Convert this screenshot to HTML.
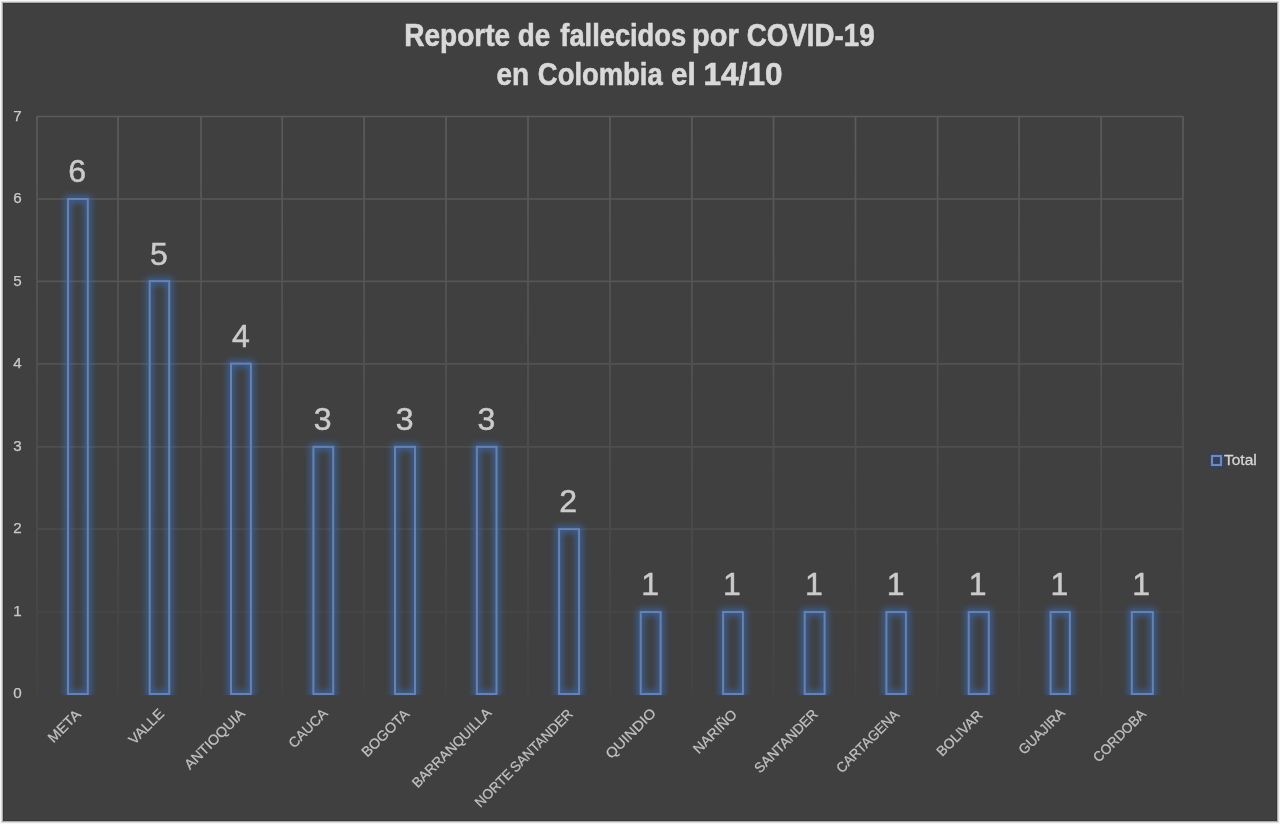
<!DOCTYPE html>
<html><head><meta charset="utf-8"><title>Reporte de fallecidos por COVID-19</title>
<style>
html,body{margin:0;padding:0;background:#f6f6f6;}
body{width:1280px;height:824px;overflow:hidden;position:relative;}
svg{position:absolute;left:0;top:0;}
text{font-family:"Liberation Sans",Arial,sans-serif;}
.num{font-family:"DejaVu Sans","Liberation Sans",sans-serif;}
</style></head><body>
<svg width="1280" height="824" viewBox="0 0 1280 824">
<defs>
<linearGradient id="gg" gradientUnits="userSpaceOnUse" x1="0" y1="116" x2="0" y2="694">
<stop offset="0" stop-color="#5b5b5b"/><stop offset="0.55" stop-color="#4f4f4f"/><stop offset="1" stop-color="#434343"/>
</linearGradient>
<filter id="glow" x="-50%" y="-10%" width="200%" height="120%">
<feGaussianBlur stdDeviation="3.2"/>
</filter>
<filter id="glow2" x="-50%" y="-50%" width="200%" height="200%"><feGaussianBlur stdDeviation="1.2"/></filter>
<clipPath id="pc"><rect x="0" y="0" width="1280" height="695.2"/></clipPath>
</defs>
<rect x="0" y="0" width="1280" height="824" fill="#f6f6f6"/>
<rect x="1.5" y="1.5" width="1277" height="821" fill="none" stroke="#dedede" stroke-width="1"/>
<rect x="2.5" y="2.5" width="1275" height="819" fill="none" stroke="#ababab" stroke-width="1"/>
<rect x="3" y="3" width="1274" height="818" fill="#404040"/>
<rect x="3.5" y="3.5" width="1273" height="817" fill="none" stroke="#393939" stroke-width="1"/>
<g stroke="url(#gg)" stroke-width="1.7" fill="none"><line x1="37.00" y1="116.50" x2="1183.00" y2="116.50"/><line x1="37.00" y1="199.00" x2="1183.00" y2="199.00"/><line x1="37.00" y1="281.30" x2="1183.00" y2="281.30"/><line x1="37.00" y1="363.80" x2="1183.00" y2="363.80"/><line x1="37.00" y1="446.80" x2="1183.00" y2="446.80"/><line x1="37.00" y1="529.10" x2="1183.00" y2="529.10"/><line x1="37.00" y1="612.00" x2="1183.00" y2="612.00"/><line x1="37.00" y1="116.50" x2="37.00" y2="694.00"/><line x1="118.00" y1="116.50" x2="118.00" y2="694.00"/><line x1="201.00" y1="116.50" x2="201.00" y2="694.00"/><line x1="282.20" y1="116.50" x2="282.20" y2="694.00"/><line x1="364.10" y1="116.50" x2="364.10" y2="694.00"/><line x1="446.00" y1="116.50" x2="446.00" y2="694.00"/><line x1="528.00" y1="116.50" x2="528.00" y2="694.00"/><line x1="610.00" y1="116.50" x2="610.00" y2="694.00"/><line x1="691.90" y1="116.50" x2="691.90" y2="694.00"/><line x1="773.50" y1="116.50" x2="773.50" y2="694.00"/><line x1="855.50" y1="116.50" x2="855.50" y2="694.00"/><line x1="937.60" y1="116.50" x2="937.60" y2="694.00"/><line x1="1019.10" y1="116.50" x2="1019.10" y2="694.00"/><line x1="1101.20" y1="116.50" x2="1101.20" y2="694.00"/><line x1="1183.00" y1="116.50" x2="1183.00" y2="694.00"/></g>
<g clip-path="url(#pc)"><g fill="none" stroke="#3a74c8" stroke-width="7" opacity="0.6" filter="url(#glow)"><rect x="68.0" y="199.0" width="19.80" height="495.00"/><rect x="149.7" y="281.1" width="19.50" height="412.90"/><rect x="231.0" y="363.6" width="19.90" height="330.40"/><rect x="313.4" y="446.85" width="19.80" height="247.15"/><rect x="395.0" y="446.85" width="20.00" height="247.15"/><rect x="476.85" y="446.85" width="19.65" height="247.15"/><rect x="559.1" y="529.1" width="19.95" height="164.90"/><rect x="640.7" y="612.0" width="19.90" height="82.00"/><rect x="723.1" y="612.0" width="19.80" height="82.00"/><rect x="804.7" y="612.0" width="19.90" height="82.00"/><rect x="886.4" y="612.0" width="19.50" height="82.00"/><rect x="968.7" y="612.0" width="20.10" height="82.00"/><rect x="1050.6" y="612.0" width="19.30" height="82.00"/><rect x="1131.8" y="612.0" width="21.00" height="82.00"/></g></g>
<g fill="none" stroke="#6482b6" stroke-width="2"><rect x="68.0" y="199.0" width="19.80" height="495.00"/><rect x="149.7" y="281.1" width="19.50" height="412.90"/><rect x="231.0" y="363.6" width="19.90" height="330.40"/><rect x="313.4" y="446.85" width="19.80" height="247.15"/><rect x="395.0" y="446.85" width="20.00" height="247.15"/><rect x="476.85" y="446.85" width="19.65" height="247.15"/><rect x="559.1" y="529.1" width="19.95" height="164.90"/><rect x="640.7" y="612.0" width="19.90" height="82.00"/><rect x="723.1" y="612.0" width="19.80" height="82.00"/><rect x="804.7" y="612.0" width="19.90" height="82.00"/><rect x="886.4" y="612.0" width="19.50" height="82.00"/><rect x="968.7" y="612.0" width="20.10" height="82.00"/><rect x="1050.6" y="612.0" width="19.30" height="82.00"/><rect x="1131.8" y="612.0" width="21.00" height="82.00"/></g>
<g class="num" fill="#cbcbcb" stroke="#cbcbcb" stroke-width="0.5" font-size="32" text-anchor="middle"><text x="77.13" y="182.20">6</text><text x="158.99" y="264.70">5</text><text x="240.84" y="347.20">4</text><text x="322.70" y="429.70">3</text><text x="404.56" y="429.70">3</text><text x="486.41" y="429.70">3</text><text x="568.27" y="512.20">2</text><text x="650.13" y="594.70">1</text><text x="731.98" y="594.70">1</text><text x="813.84" y="594.70">1</text><text x="895.70" y="594.70">1</text><text x="977.56" y="594.70">1</text><text x="1059.41" y="594.70">1</text><text x="1141.27" y="594.70">1</text></g>
<g class="num" fill="#c9c9c9" stroke="#c9c9c9" stroke-width="0.25" font-size="15.2" text-anchor="end"><text x="21.8" y="698.30">0</text><text x="21.8" y="615.80">1</text><text x="21.8" y="533.30">2</text><text x="21.8" y="450.80">3</text><text x="21.8" y="368.30">4</text><text x="21.8" y="285.80">5</text><text x="21.8" y="203.30">6</text><text x="21.8" y="120.80">7</text></g>
<g fill="#c0c0c0" stroke="#c0c0c0" stroke-width="0.25" font-size="14" word-spacing="-1.2" text-anchor="end"><text transform="translate(78.01,711.70) rotate(-45)" dy="0.36em" textLength="39.76" lengthAdjust="spacingAndGlyphs">META</text><text transform="translate(161.42,710.83) rotate(-45)" dy="0.36em" textLength="43.54" lengthAdjust="spacingAndGlyphs">VALLE</text><text transform="translate(242.27,710.80) rotate(-45)" dy="0.36em" textLength="79.06" lengthAdjust="spacingAndGlyphs">ANTIOQUIA</text><text transform="translate(324.95,710.75) rotate(-45)" dy="0.36em" textLength="48.56" lengthAdjust="spacingAndGlyphs">CAUCA</text><text transform="translate(406.68,711.25) rotate(-45)" dy="0.36em" textLength="60.75" lengthAdjust="spacingAndGlyphs">BOGOTA</text><text transform="translate(488.71,710.35) rotate(-45)" dy="0.36em" textLength="105.56" lengthAdjust="spacingAndGlyphs">BARRANQUILLA</text><text transform="translate(570.17,711.30) rotate(-45)" dy="0.36em" textLength="131.7" lengthAdjust="spacingAndGlyphs">NORTE SANTANDER</text><text transform="translate(653.25,710.32) rotate(-45)" dy="0.36em" textLength="64.35" lengthAdjust="spacingAndGlyphs">QUINDIO</text><text transform="translate(734.33,711.85) rotate(-45)" dy="0.36em" textLength="55.23" lengthAdjust="spacingAndGlyphs">NARIÑO</text><text transform="translate(815.19,711.42) rotate(-45)" dy="0.36em" textLength="83.06" lengthAdjust="spacingAndGlyphs">SANTANDER</text><text transform="translate(896.45,712.07) rotate(-45)" dy="0.36em" textLength="82.14" lengthAdjust="spacingAndGlyphs">CARTAGENA</text><text transform="translate(979.81,712.43) rotate(-45)" dy="0.36em" textLength="58.16" lengthAdjust="spacingAndGlyphs">BOLIVAR</text><text transform="translate(1062.11,710.38) rotate(-45)" dy="0.36em" textLength="58.56" lengthAdjust="spacingAndGlyphs">GUAJIRA</text><text transform="translate(1143.39,711.25) rotate(-45)" dy="0.36em" textLength="68.16" lengthAdjust="spacingAndGlyphs">CORDOBA</text></g>
<g fill="#d9d9d9" stroke="#d9d9d9" stroke-width="0.6" font-size="31" font-weight="bold"><text transform="translate(404.19,45.7) scale(0.9043,1)">Reporte</text><text transform="translate(517.85,45.7) scale(0.8986,1)">de</text><text transform="translate(560.30,45.7) scale(0.8803,1)">fallecidos</text><text transform="translate(692.03,45.7) scale(0.9344,1)">por</text><text transform="translate(746.86,45.7) scale(0.8936,1)">COVID-19</text><text transform="translate(496.60,85) scale(0.9000,1)">en</text><text transform="translate(537.87,85) scale(0.8840,1)">Colombia</text><text transform="translate(671.05,85) scale(0.9522,1)">el</text><text transform="translate(703.57,85) scale(1.0173,1)">14/10</text></g>
<rect x="1212" y="456" width="9" height="9" fill="none" stroke="#22458a" stroke-width="4" opacity="0.8" filter="url(#glow2)"/><rect x="1212" y="456" width="9" height="9" fill="none" stroke="#7089bd" stroke-width="2.1"/>
<text transform="translate(1224,465) scale(1.0,1)" fill="#d5d5d5" stroke="#d5d5d5" stroke-width="0.3" font-size="15.5">Total</text>
</svg>
</body></html>
